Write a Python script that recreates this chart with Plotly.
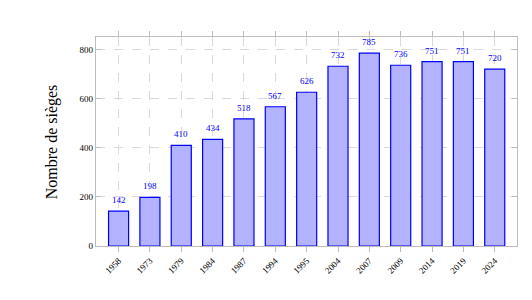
import plotly.graph_objects as go

years = ["1958", "1973", "1979", "1984", "1987", "1994", "1995", "2004", "2007", "2009", "2014", "2019", "2024"]
seats = [142, 198, 410, 434, 518, 567, 626, 732, 785, 736, 751, 751, 720]
y_ticks = [0, 200, 400, 600, 800]

FONT = "Liberation Serif"
idx = list(range(len(years)))

fig = go.Figure()
fig.add_trace(go.Bar(
    x=idx, y=seats, width=0.64,
    marker=dict(color="#b3b3ff", line=dict(color="#0000ff", width=1.2)),
    showlegend=False,
))
for i, v in zip(idx, seats):
    fig.add_annotation(x=i, y=v, text=str(v), showarrow=False, yshift=11,
                       font=dict(family=FONT, size=9, color="#0000ff"))

fig.add_annotation(xref="paper", yref="paper", x=-0.105, y=0.5, text="Nombre de sièges",
                   textangle=-90, showarrow=False, xanchor="center", yanchor="middle",
                   font=dict(family=FONT, size=16, color="black"))

fig.update_layout(
    width=532, height=300,
    margin=dict(l=96, r=15, t=37, b=54),
    paper_bgcolor="white", plot_bgcolor="white",
    font=dict(family=FONT, size=9, color="black"),
)
fig.update_xaxes(
    tickmode="array", tickvals=idx, ticktext=years, tickangle=-45,
    range=[-0.72, 12.71],
    showgrid=True, gridcolor="#d9d9d9", griddash="dash", gridwidth=1,
    showline=True, linecolor="#bdbdbd", linewidth=1.2, mirror="ticks",
    ticks="outside", ticklen=5, tickcolor="#bdbdbd",
    zeroline=False,
)
fig.update_yaxes(
    tickmode="array", tickvals=y_ticks, range=[0, 851],
    showgrid=True, gridcolor="#d9d9d9", griddash="dash", gridwidth=1,
    showline=True, linecolor="#bdbdbd", linewidth=1.2, mirror="ticks",
    ticks="inside", ticklen=5, tickcolor="#bdbdbd",
    zeroline=False,
)
fig.write_html("out.html")
